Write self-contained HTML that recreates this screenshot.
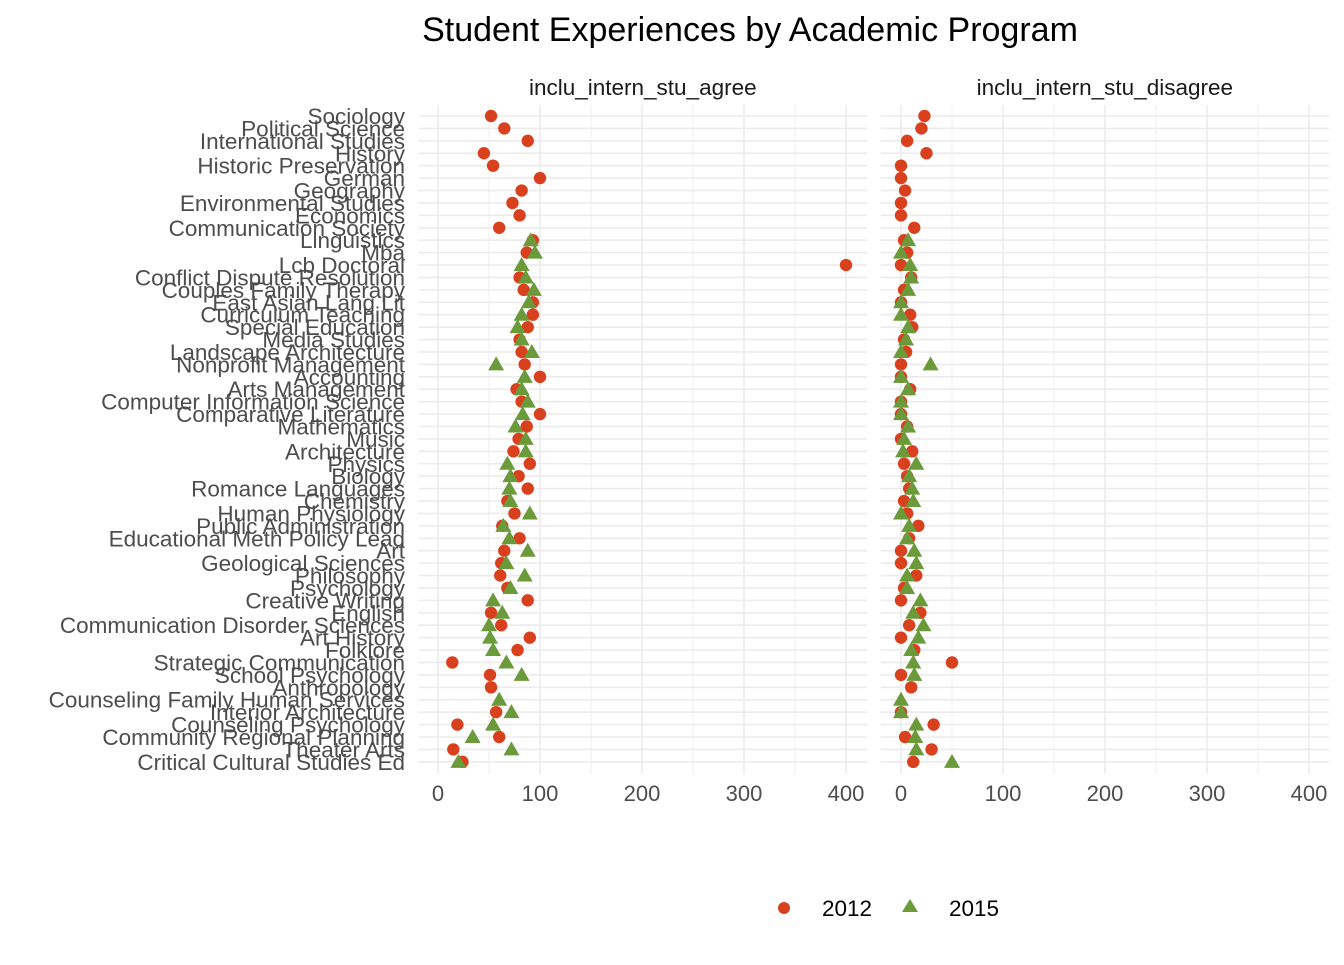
<!DOCTYPE html>
<html><head><meta charset="utf-8"><style>
body{margin:0;background:#fff;}
svg text{font-family:"Liberation Sans",sans-serif;}
</style></head><body>
<svg id="chart" width="1344" height="960" xmlns="http://www.w3.org/2000/svg">
<text x="750" y="41" text-anchor="middle" font-size="34" fill="#000">Student Experiences by Academic Program</text>
<g id="panels"></g>
<g>
<circle cx="784" cy="908" r="6" fill="#d9411e"/>
<text x="822" y="916" font-size="22.5" fill="#000">2012</text>
<polygon points="910,899 918,912 902,912" fill="#6a9a3a"/>
<text x="949" y="916" font-size="22.5" fill="#000">2015</text>
</g>
</svg>
<script>
const categories=["Sociology","Political Science","International Studies","History","Historic Preservation","German","Geography","Environmental Studies","Economics","Communication Society","Linguistics","Mba","Lcb Doctoral","Conflict Dispute Resolution","Couples Family Therapy","East Asian Lang Lit","Curriculum Teaching","Special Education","Media Studies","Landscape Architecture","Nonprofit Management","Accounting","Arts Management","Computer Information Science","Comparative Literature","Mathematics","Music","Architecture","Physics","Biology","Romance Languages","Chemistry","Human Physiology","Public Administration","Educational Meth Policy Lead","Art","Geological Sciences","Philosophy","Psychology","Creative Writing","English","Communication Disorder Sciences","Art History","Folklore","Strategic Communication","School Psychology","Anthropology","Counseling Family Human Services","Interior Architecture","Counseling Psychology","Community Regional Planning","Theater Arts","Critical Cultural Studies Ed"];
const agree2012=[52,65,88,45,54,100,82,73,80,60,93,87,400,80,84,93,93,88,80,82,85,100,77,82,100,87,79,74,90,79,88,68,75,63,80,65,62,61,68,88,52,62,90,78,14,51,52,null,57,19,60,15,24];
const agree2015=[null,null,null,null,null,null,null,null,null,null,91,95,82,86,94,89,82,78,82,92,57,85,82,88,83,76,86,86,68,71,70,71,90,64,70,88,67,85,71,54,63,50,51,54,67,82,null,60,72,54,34,72,20];
const disagree2012=[23,20,6,25,0,0,4,0,0,13,3,6,0,10,3,0,9,11,3,5,0,0,9,0,0,6,0,11,3,6,8,3,6,17,8,0,0,15,3,0,19,8,0,13,50,0,10,null,0,32,4,30,12];
const disagree2015=[null,null,null,null,null,null,null,null,null,null,7,0,9,10,7,0,0,7,5,0,29,0,7,0,0,7,3,2,15,8,11,12,0,8,6,13,15,6,6,19,12,22,17,10,12,13,null,0,0,15,14,15,50];
const panelTitles=["inclu_intern_stu_agree","inclu_intern_stu_disagree"];
const xTicks=[0,100,200,300,400];
const NS="http://www.w3.org/2000/svg";
const g=document.getElementById('panels');
function el(t,a,p){const e=document.createElementNS(NS,t);for(const k in a)e.setAttribute(k,a[k]);(p||g).appendChild(e);return e;}
const yTop=116,yStep=12.42,pTop=105,pBot=774;
function yScale(i){return yTop+yStep*i;}
const panels=[{x0:438,left:418.6,right:867,s2012:agree2012,s2015:agree2015},{x0:901,left:880.6,right:1329,s2012:disagree2012,s2015:disagree2015}];
const k=1.02;
panels.forEach((p,pi)=>{
  const xs=v=>p.x0+v*k;
  const pg=el('g',{});
  
  
  for(let v=-50;v<=450;v+=50){const x=xs(v);if(x<p.left||x>p.right)continue;
    el('line',{x1:x,x2:x,y1:pTop,y2:pBot,stroke:'#ebebeb','stroke-width':v%100===0?1.6:0.8},pg);}
  categories.forEach((c,i)=>{el('line',{x1:p.left,x2:p.right,y1:yScale(i),y2:yScale(i),stroke:'#ebebeb','stroke-width':1.6},pg);});
  const st=el('text',{x:(p.left+p.right)/2,y:95,'text-anchor':'middle','font-size':22.5,fill:'#1a1a1a'},pg);
  st.textContent=panelTitles[pi];
  
  
  xTicks.forEach(t=>{const tx=el('text',{x:xs(t),y:801,'text-anchor':'middle','font-size':22,fill:'#4d4d4d'},pg);tx.textContent=t;
    
    });
  categories.forEach((c,i)=>{
    const a=p.s2012[i],b=p.s2015[i];
    if(a!==null){const d=el('circle',{cx:xs(a),cy:yScale(i),r:6.2,fill:'#d9411e'},pg);
      
      }
    if(b!==null){const x=xs(b),y=yScale(i);
      const tr=el('polygon',{points:`${x},${y-8} ${x+8},${y+6} ${x-8},${y+6}`,fill:'#6a9a3a'},pg);
      
      }
  });
});
categories.forEach((c,i)=>{const t=el('text',{x:405,y:yScale(i)+8,'text-anchor':'end','font-size':22.5,fill:'#4d4d4d'});t.textContent=c;
  
  });
</script>
</body></html>
